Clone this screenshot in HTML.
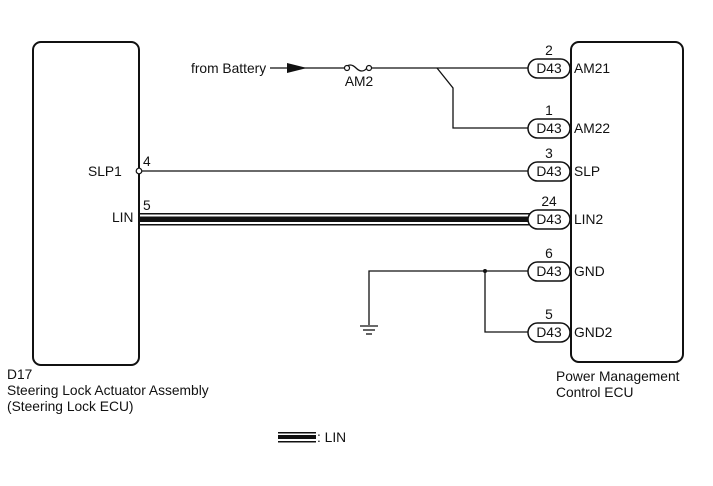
<!DOCTYPE html>
<html><head><meta charset="utf-8"><style>
html,body{margin:0;padding:0;background:#fff;}
text{font-family:"Liberation Sans",Arial,sans-serif;font-size:13.8px;fill:#111;}
</style></head><body>
<svg width="713" height="481" viewBox="0 0 713 481" xmlns="http://www.w3.org/2000/svg">
<g fill="none" stroke="#111" stroke-width="2">
<rect x="33" y="42" width="106" height="323" rx="8"/>
<rect x="571" y="42" width="112" height="320" rx="8"/>
</g>
<g stroke="#111" stroke-width="1.3" fill="none">
<line x1="270" y1="68" x2="344" y2="68"/>
<path d="M345 68 q5 -6 11 0 t11 0" />
<line x1="371" y1="68" x2="528" y2="68"/>
<polyline points="437,68 453,88 453,128 528,128"/>
<line x1="139" y1="171" x2="528" y2="171"/>
<polyline points="528,271 369,271 369,325"/>
<polyline points="485,271 485,332 528,332"/>
<line x1="360" y1="326" x2="378" y2="326"/>
<line x1="363" y1="330" x2="375" y2="330"/>
<line x1="366" y1="334" x2="372" y2="334"/>
</g>
<circle cx="485" cy="271" r="2" fill="#111"/>
<polygon points="287,63 307,68 287,73" fill="#111"/>
<circle cx="347" cy="68" r="2.5" fill="#fff" stroke="#111" stroke-width="1.2"/>
<circle cx="369" cy="68" r="2.5" fill="#fff" stroke="#111" stroke-width="1.2"/>
<circle cx="139" cy="171" r="2.8" fill="#fff" stroke="#111" stroke-width="1.2"/>
<rect x="140" y="213" width="390" height="1.5" fill="#111"/>
<rect x="140" y="216.5" width="390" height="5.5" fill="#111"/>
<rect x="140" y="224" width="390" height="1.5" fill="#111"/>
<rect x="278" y="432" width="38" height="1.5" fill="#111"/>
<rect x="278" y="435" width="38" height="4" fill="#111"/>
<rect x="278" y="441" width="38" height="1.5" fill="#111"/>
<g fill="#fff" stroke="#111" stroke-width="1.5">
<rect x="528" y="59" width="42" height="19" rx="9.5"/>
<rect x="528" y="119" width="42" height="19" rx="9.5"/>
<rect x="528" y="162" width="42" height="19" rx="9.5"/>
<rect x="528" y="210" width="42" height="19" rx="9.5"/>
<rect x="528" y="262" width="42" height="19" rx="9.5"/>
<rect x="528" y="323" width="42" height="19" rx="9.5"/>
</g>
<g text-anchor="middle">
<text x="549" y="73">D43</text><text x="549" y="133">D43</text><text x="549" y="176">D43</text>
<text x="549" y="224">D43</text><text x="549" y="276">D43</text><text x="549" y="337">D43</text>
<text x="549" y="55">2</text><text x="549" y="115">1</text><text x="549" y="158">3</text>
<text x="549" y="206">24</text><text x="549" y="258">6</text><text x="549" y="319">5</text>
<text x="359" y="86">AM2</text>
</g>
<text x="574" y="73">AM21</text><text x="574" y="133">AM22</text><text x="574" y="176">SLP</text>
<text x="574" y="224">LIN2</text><text x="574" y="276">GND</text><text x="574" y="337">GND2</text>
<text x="191" y="73">from Battery</text>
<text x="88" y="176">SLP1</text><text x="143" y="166">4</text>
<text x="112" y="222">LIN</text><text x="143" y="210">5</text>
<text x="7" y="379">D17</text>
<text x="7" y="395">Steering Lock Actuator Assembly</text>
<text x="7" y="411">(Steering Lock ECU)</text>
<text x="556" y="381">Power Management</text>
<text x="556" y="397">Control ECU</text>
<text x="317" y="442">: LIN</text>
</svg>
</body></html>
